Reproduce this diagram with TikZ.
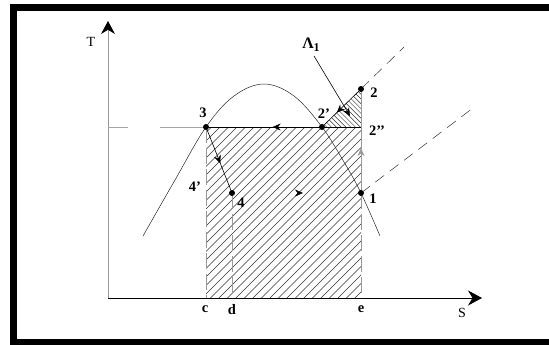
\documentclass[tikz,border=0pt]{standalone}
\usepackage{fontspec}
\setmainfont{Liberation Serif}
\usetikzlibrary{arrows.meta,decorations.markings}
\begin{document}
\begin{tikzpicture}[x=1pt,y=-1pt,
  lbl/.style={font=\fontsize{14.5}{16}\selectfont\bfseries, inner sep=0pt},
  axlbl/.style={font=\fontsize{14}{16}\selectfont, inner sep=0pt},
  dot/.style={circle,fill=black,inner sep=0pt,minimum size=6pt},
  midarrow/.style={decoration={markings,mark=at position #1 with {\arrow{Stealth[length=8pt,width=7pt]}}},postaction={decorate}},
  hatch/.style={line width=0.45pt, black!80},
  vline/.style={gray!80, line width=0.8pt},
  vdash/.style={gray!80, line width=0.8pt, dash pattern=on 16pt off 5pt},
  iso/.style={black!80, line width=0.5pt, dash pattern=on 11pt off 7pt},
  cycle/.style={black, line width=0.6pt}
]
\useasboundingbox (0,0) rectangle (549,345);
% frame
\draw[line width=7pt, line join=miter] (549,7.5) -- (13.5,7.5) -- (13.5,342) -- (549,342);

% key points
\coordinate (O) at (108,298);
\coordinate (Ttip) at (108,21);
\coordinate (Stip) at (482,298);
\coordinate (p3) at (206,127);
\coordinate (p2p) at (322,127);
\coordinate (p2pp) at (361,127);
\coordinate (p2) at (361,89);
\coordinate (p1) at (361,193);
\coordinate (p4) at (232,193);
\coordinate (c) at (206,298);
\coordinate (d) at (232,298);
\coordinate (e) at (361,298);
\coordinate (Tl) at (108,127);
\coordinate (iso1) at (404,47);
\coordinate (iso2) at (473,108);
\coordinate (a1tail) at (314,56);
\coordinate (a1tip) at (350,116);

% hatching of rectangle c-e
\begin{scope}
  \clip (p3) rectangle (e);
  \foreach \i in {0,...,40} {\draw[hatch] ({30+\i*8.5},300) -- ++(200,-200);}
\end{scope}
% hatching of triangle 2'-2-2''
\begin{scope}
  \clip (p2p) -- (p2) -- (p2pp) -- cycle;
  \foreach \i in {0,...,20} {\draw[hatch] ({270+\i*4.8},80) -- ++(60,60);}
\end{scope}

% axes
\draw[gray!80, line width=0.8pt, -{Stealth[length=13pt,width=14pt,color=black]}] (O) -- (Ttip);
\draw[black, line width=0.8pt, -{Stealth[length=14pt,width=15pt]}] (O) -- (Stip);

% dashed extension of 3-2'' to the T axis
\draw[gray!70, line width=0.6pt, dash pattern=on 20pt off 32pt on 46pt off 0pt] (Tl) -- (p3);

% saturation dome
\draw[black!85, line width=0.5pt] plot[smooth, tension=0.6] coordinates {(143,236) (175,180) (206,127) (234,96) (264,84) (294,96) (322,127) (344,162) (361,193) (380,236)};

% vertical lines
\draw[vdash] (p3) -- (c);
\draw[vdash] (p4) -- (d);
\draw[vline] (p2) -- (p1);
\draw[vdash] (p1) -- (e);

% isobars
\draw[iso] (p2) -- (iso1);
\draw[iso] (p1) -- (iso2);

% cycle
\draw[cycle, midarrow=0.57] (p2pp) -- (p3);
\draw[cycle, midarrow=0.62] (p2) -- (p2p);
\draw[vline, midarrow=0.68] (p1) -- (p2pp);
\draw[cycle, midarrow=0.55] (p3) -- (p4);
\path[midarrow=0.55] (p4) -- (p1);

% dots
\foreach \p in {p3,p2p,p2,p1,p4} {\node[dot] at (\p) {};}

% labels
\node[axlbl] (Tlab) at (91,42) {T};
\node[axlbl] (Slab) at (462,313) {S};
\node[lbl] (l3) at (203,113) {3};
\node[lbl] (l2p) at (324,114) {2'};
\node[lbl] (l2) at (374,93) {2};
\node[lbl] (l2pp) at (377,131) {2{'}{'}};
\node[lbl] (l1) at (373,199) {1};
\node[lbl] (l4) at (241,203) {4};
\node[lbl] (l4p) at (195,187) {4'};
\node[lbl] (lc) at (205,309) {c};
\node[lbl] (ld) at (232,310) {d};
\node[lbl] (le) at (361,309) {e};
\node[lbl, font=\fontsize{16}{18}\selectfont\bfseries] (lA) at (311,45) {Λ\raisebox{-3pt}{\fontsize{12}{12}\selectfont 1}};
\draw[black, line width=0.6pt, -{Stealth[length=8pt,width=7pt]}] (a1tail) -- (a1tip);
\end{tikzpicture}
\end{document}
